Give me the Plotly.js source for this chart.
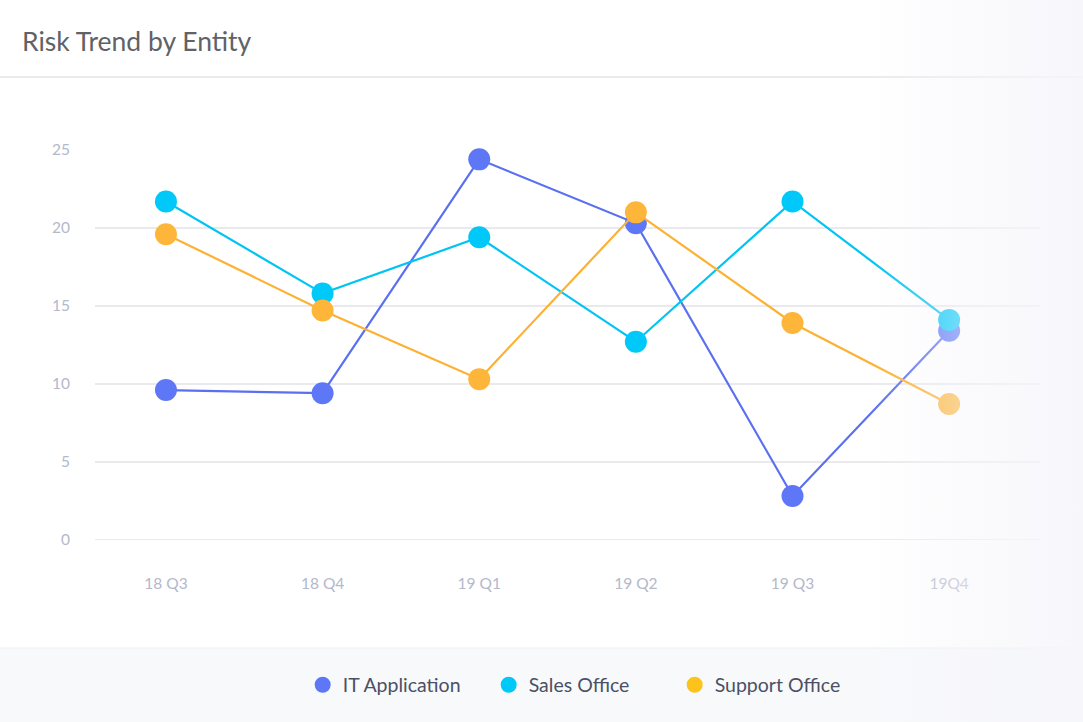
<!DOCTYPE html>
<html>
<head>
<meta charset="utf-8">
<script src="https://cdn.plot.ly/plotly-3.0.1.min.js"></script>
<style>
  html, body { margin: 0; padding: 0; background: #fff; }
  #chart { width: 1083px; height: 722px; position: relative; }
  #fade {
    position: absolute; left: 0; top: 0; width: 1083px; height: 722px;
    pointer-events: none;
    background: linear-gradient(to right, rgba(246,246,251,0) 870px, rgba(246,246,251,0.45) 960px, rgba(246,246,251,0.85) 1083px);
  }
</style>
</head>
<body>
<div id="chart"></div>
<div id="fade"></div>
<script>
// quarters along the x axis
var quarters = ['18 Q3', '18 Q4', '19 Q1', '19 Q2', '19 Q3', '19Q4'];

// risk scores per entity
var itApplication = [9.6, 9.4, 24.4, 20.3, 2.8, 13.4];
var salesOffice = [21.7, 15.8, 19.4, 12.7, 21.7, 14.1];
var supportOffice = [19.6, 14.7, 10.3, 21.0, 13.9, 8.7];

var entityNames = ['IT Application', 'Sales Office', 'Support Office'];
var lineColors = ['#5a70f0', '#00c4f2', '#fdb132'];
var dotColors = ['#5d77f7', '#00c8f8', '#fdb63a'];
var legendColors = ['#5d77f7', '#00c8f8', '#fdc31c'];

var yTicks = [0, 5, 10, 15, 20, 25];

var traces = [];
[itApplication, salesOffice, supportOffice].forEach(function (values, i) {
    traces.push({
        x: quarters,
        y: values,
        name: entityNames[i],
        legendgroup: entityNames[i],
        showlegend: false,
        type: 'scatter',
        mode: 'lines+markers',
        cliponaxis: false,
        line: { color: lineColors[i], width: 2.2 },
        marker: { color: dotColors[i], size: 22 }
    });
});

// dot-only legend entries
entityNames.forEach(function (name, i) {
    traces.push({
        x: [null],
        y: [null],
        name: name,
        legendgroup: name,
        type: 'scatter',
        mode: 'markers',
        marker: { color: legendColors[i], size: 17 }
    });
});

var layout = {
    width: 1083,
    height: 722,
    margin: { l: 95, r: 43, t: 150, b: 182 },
    paper_bgcolor: '#ffffff',
    plot_bgcolor: 'rgba(0,0,0,0)',
    font: { family: 'Lato, "Open Sans", sans-serif', color: '#b3b8cb', size: 15 },
    showlegend: true,
    legend: {
        orientation: 'h',
        x: 0.515,
        xanchor: 'center',
        y: -0.372,
        yanchor: 'middle',
        font: { size: 19.5, color: '#4b5064' },
        itemwidth: 30,
        entrywidth: 141,
        bgcolor: 'rgba(0,0,0,0)'
    },
    xaxis: {
        type: 'category',
        range: [-0.453, 5.58],
        showgrid: false,
        zeroline: false,
        showline: false,
        ticks: '',
        ticklabelstandoff: 32,
        tickfont: { size: 15.5, color: '#b3b8cb' },
        fixedrange: true
    },
    yaxis: {
        range: [-0.02, 25],
        tickvals: yTicks,
        showgrid: true,
        gridcolor: '#e9e9ee',
        gridwidth: 1.5,
        zeroline: true,
        zerolinecolor: '#e9e9ee',
        zerolinewidth: 1.5,
        showline: false,
        ticks: '',
        ticklabelstandoff: 24,
        tickfont: { size: 15.5, color: '#b3b8cb' },
        fixedrange: true
    },
    annotations: [{
        text: 'Risk Trend by Entity',
        xref: 'paper', yref: 'paper',
        x: -0.079, y: 1.279,
        xanchor: 'left', yanchor: 'middle',
        showarrow: false,
        font: { size: 26.5, color: '#5f6267', family: 'Lato, "Open Sans", sans-serif' }
    }],
    shapes: [
        // header separator
        { type: 'line', xref: 'paper', yref: 'paper', x0: -0.11, x1: 1.05, y0: 1.187, y1: 1.187,
          line: { color: '#e4e4e8', width: 1.5 }, layer: 'below' },
        // legend band
        { type: 'rect', xref: 'paper', yref: 'paper', x0: -0.11, x1: 1.05, y0: -0.277, y1: -0.48,
          fillcolor: '#f8f9fb', line: { width: 0 }, layer: 'below' },
        { type: 'line', xref: 'paper', yref: 'paper', x0: -0.11, x1: 1.05, y0: -0.277, y1: -0.277,
          line: { color: '#eeeff3', width: 1 }, layer: 'below' }
    ]
};

Plotly.newPlot('chart', traces, layout, { displayModeBar: false, staticPlot: true });
</script>
</body>
</html>
